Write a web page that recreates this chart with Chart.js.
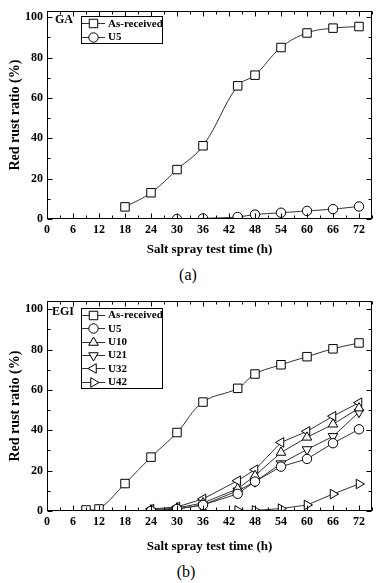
<!DOCTYPE html>
<html><head><meta charset="utf-8">
<script src="https://cdn.jsdelivr.net/npm/chart.js@4/dist/chart.umd.min.js"></script>
<style>
html,body{margin:0;padding:0;background:#fff;width:379px;height:583px;overflow:hidden}
canvas{position:absolute;left:0}
#ca{top:0}
#cb{top:290px}
.lab{position:absolute;font-family:"Liberation Serif",serif;font-size:16px;width:40px;text-align:center;line-height:18px;color:#000}
</style></head><body>
<canvas id="ca" width="379" height="262"></canvas>
<div class="lab" style="left:168px;top:266px">(a)</div>
<canvas id="cb" width="379" height="272"></canvas>
<div class="lab" style="left:166px;top:563px">(b)</div>
<script>
// ---- Data ----
const xAxisTitle = 'Salt spray test time (h)';
const yAxisTitle = 'Red rust ratio (%)';

// (a) GA
const gaHours = [18, 24, 30, 36, 44, 48, 54, 60, 66, 72];
const gaAsReceived = [6, 13, 24.5, 36.3, 66, 71.3, 85, 92.2, 94.6, 95.4];
const gaU5Hours = [30, 36, 44, 48, 54, 60, 66, 72];
const gaU5 = [0, 0.3, 1, 2.2, 3.1, 4, 4.9, 6.2];

// (b) EGI
const egiAsHours = [9, 12, 18, 24, 30, 36, 44, 48, 54, 60, 66, 72];
const egiAsReceived = [0.5, 1, 13.6, 26.7, 38.9, 54, 60.8, 67.9, 72.5, 76.5, 80.4, 83.3];
const egiUHours = [24, 30, 36, 44, 48, 54, 60, 66, 72];
const egiU5 = [0, 1, 3, 8.5, 14.6, 22, 25.8, 33.6, 40.5];
const egiU10 = [0.5, 1.5, 4, 11, 17.5, 29, 36.5, 43, 51];
const egiU21 = [0, 1, 3, 10, 14.5, 23.5, 30.5, 37, 49];
const egiU32 = [1, 2, 6, 15, 20.5, 34, 39.5, 47, 53.7];
const egiU42Hours = [30, 36, 44, 48, 54, 60, 66, 72];
const egiU42 = [0, 0, 0.3, 0.3, 1.2, 3, 8.4, 13.4];

const SERIF = '"Liberation Serif", "Times New Roman", serif';

function pts(xs, ys) { return xs.map((x, i) => ({x: x, y: ys[i]})); }

function ds(label, xs, ys, style, radius, rotation, tension) {
  return {
    label: label,
    data: pts(xs, ys),
    borderColor: '#333',
    borderWidth: 1,
    backgroundColor: '#fff',
    pointStyle: style,
    pointRadius: radius,
    pointRotation: rotation,
    pointBackgroundColor: '#fff',
    pointBorderColor: '#000',
    pointBorderWidth: 1,
    tension: tension,
    fill: false
  };
}

function drawMarker(ctx, style, radius, rotation, x, y) {
  ctx.save();
  ctx.fillStyle = '#fff';
  ctx.strokeStyle = '#000';
  ctx.lineWidth = 1;
  if (Chart.helpers && Chart.helpers.drawPoint) {
    Chart.helpers.drawPoint(ctx, {pointStyle: style, radius: radius, rotation: rotation, borderWidth: 1}, x, y);
  }
  ctx.restore();
}

const framePlugin = {
  id: 'frame',
  afterDatasetsDraw(chart, args, opts) {
    const ctx = chart.ctx, a = chart.chartArea;
    const xs = chart.scales.x, ys = chart.scales.y;
    ctx.save();
    ctx.strokeStyle = '#000';
    ctx.lineWidth = 1;
    const L = Math.round(a.left) + 0.5, R = Math.round(a.right) - 0.5;
    const T = Math.round(a.top) + 0.5, B = Math.round(a.bottom) - 0.5;
    ctx.strokeRect(L, T, R - L, B - T);
    ctx.beginPath();
    for (let v = 0; v <= xs.max; v += 3) {
      const px = Math.round(xs.getPixelForValue(v)) + 0.5;
      const len = v % 6 === 0 ? 5 : 3;
      ctx.moveTo(px, B); ctx.lineTo(px, B - len);
      ctx.moveTo(px, T); ctx.lineTo(px, T + len);
    }
    for (let v = 0; v <= ys.max; v += 10) {
      const py = Math.round(ys.getPixelForValue(v)) + 0.5;
      const len = v % 20 === 0 ? 5 : 3;
      ctx.moveTo(L, py); ctx.lineTo(L + len, py);
      ctx.moveTo(R, py); ctx.lineTo(R - len, py);
    }
    ctx.stroke();

    // panel label
    ctx.fillStyle = '#000';
    ctx.font = 'bold 12px ' + SERIF;
    ctx.textBaseline = 'middle';
    ctx.textAlign = 'left';
    ctx.fillText(opts.panel, opts.panelX, opts.panelY);

    // legend box
    const b = opts.box;
    ctx.fillStyle = '#fff';
    ctx.fillRect(b[0], b[1], b[2] - b[0], b[3] - b[1]);
    ctx.strokeRect(b[0] + 0.5, b[1] + 0.5, b[2] - b[0], b[3] - b[1]);
    chart.data.datasets.forEach((d, i) => {
      const yy = opts.row0 + i * opts.rowDy;
      ctx.strokeStyle = d.borderColor;
      ctx.beginPath();
      ctx.moveTo(b[0] + 1, Math.round(yy) + 0.5);
      ctx.lineTo(b[0] + 24, Math.round(yy) + 0.5);
      ctx.stroke();
      drawMarker(ctx, d.pointStyle, d.pointRadius, d.pointRotation, b[0] + 12.5, Math.round(yy) + 0.5);
      ctx.fillStyle = '#000';
      ctx.font = 'bold 11px ' + SERIF;
      ctx.textBaseline = 'middle';
      ctx.fillText(d.label, b[0] + 27, yy + 0.5);
    });
    ctx.restore();
  }
};

function makeChart(id, datasets, yMax, xAxisH, titlePadBottom, legendOpts) {
  return new Chart(document.getElementById(id), {
    type: 'line',
    data: {datasets: datasets},
    plugins: [framePlugin],
    options: {
      responsive: false,
      animation: false,
      events: [],
      layout: {padding: {top: 7, right: 7, left: 0, bottom: 0}},
      plugins: {legend: {display: false}, tooltip: {enabled: false}, frame: legendOpts},
      scales: {
        x: {
          type: 'linear', min: 0, max: 75,
          grid: {display: false, drawTicks: false},
          border: {display: false},
          ticks: {stepSize: 6, includeBounds: false, autoSkip: false, maxRotation: 0, padding: 4,
                  color: '#000', font: {family: SERIF, size: 12, weight: 'bold'}},
          title: {display: true, text: xAxisTitle, color: '#000',
                  font: {family: SERIF, size: 13, weight: 'bold'}, padding: {top: 0, bottom: titlePadBottom}},
          afterFit: s => { s.height = xAxisH; }
        },
        y: {
          type: 'linear', min: 0, max: yMax,
          grid: {display: false, drawTicks: false},
          border: {display: false},
          ticks: {stepSize: 20, includeBounds: false, padding: 4,
                  color: '#000', font: {family: SERIF, size: 12, weight: 'bold'}},
          title: {display: true, text: yAxisTitle, color: '#000',
                  font: {family: SERIF, size: 14, weight: 'bold'}, padding: {top: 7, bottom: 0}},
          afterFit: s => { s.width = 47; }
        }
      }
    }
  });
}

makeChart('ca', [
  ds('As-received', gaHours, gaAsReceived, 'rect', 6, 0, 0.4),
  ds('U5', gaU5Hours, gaU5, 'circle', 4.7, 0, 0.3)
], 103, 43, 5, {panel: 'GA', panelX: 55, panelY: 20, box: [81, 16, 162, 43], row0: 23.3, rowDy: 13.4});

makeChart('cb', [
  ds('As-received', egiAsHours, egiAsReceived, 'rect', 6, 0, 0.4),
  ds('U5', egiUHours, egiU5, 'circle', 4.7, 0, 0),
  ds('U10', egiUHours, egiU10, 'triangle', 5.5, 0, 0),
  ds('U21', egiUHours, egiU21, 'triangle', 5.5, 180, 0),
  ds('U32', egiUHours, egiU32, 'triangle', 5.5, 270, 0),
  ds('U42', egiU42Hours, egiU42, 'triangle', 5.5, 90, 0)
], 104, 51, 8, {panel: 'EGI', panelX: 52, panelY: 22, box: [81, 18, 162, 98], row0: 25, rowDy: 13.3});
</script>
</body></html>
